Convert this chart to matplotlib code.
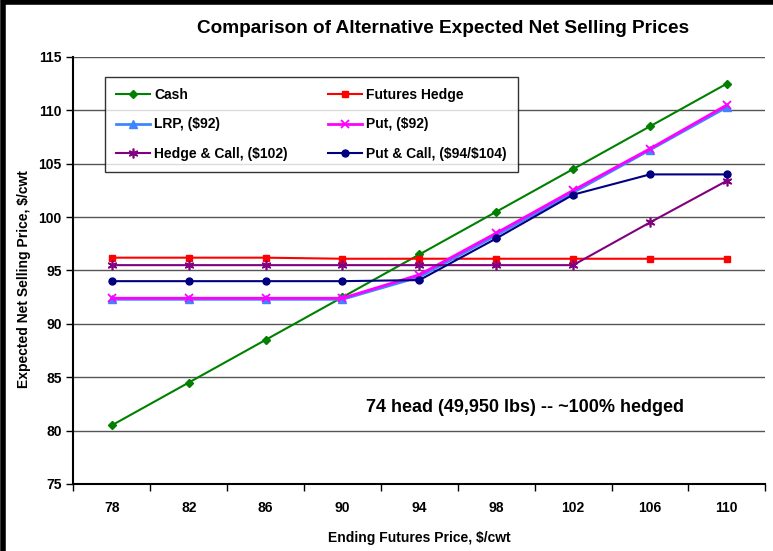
import matplotlib
matplotlib.use("Agg")
import matplotlib.pyplot as plt
from matplotlib.patches import Rectangle
from matplotlib.ticker import FixedLocator

plt.rcParams['font.family'] = ['Liberation Sans', 'DejaVu Sans']

prices = [78, 82, 86, 90, 94, 98, 102, 106, 110]
cash = [80.5, 84.5, 88.5, 92.5, 96.5, 100.5, 104.5, 108.5, 112.5]
futures_hedge = [96.2, 96.2, 96.2, 96.1, 96.1, 96.1, 96.1, 96.1, 96.1]
lrp = [92.3, 92.3, 92.3, 92.3, 94.4, 98.3, 102.3, 106.3, 110.3]
put = [92.4, 92.4, 92.4, 92.4, 94.6, 98.5, 102.5, 106.4, 110.5]
hedge_call = [95.5, 95.5, 95.5, 95.5, 95.5, 95.5, 95.5, 99.5, 103.4]
put_call = [94.0, 94.0, 94.0, 94.0, 94.1, 98.0, 102.1, 104.0, 104.0]

fig = plt.figure(figsize=(7.73, 5.51), dpi=100)
ax = fig.add_axes([0.095, 0.1216, 0.895, 0.775])

h_cash, = ax.plot(prices, cash, color='#008000', marker='D', markersize=4, lw=1.5, label='Cash')
h_fut, = ax.plot(prices, futures_hedge, color='#FF0000', marker='s', markersize=5, lw=1.5, label='Futures Hedge')
h_lrp, = ax.plot(prices, lrp, color='#3D86FF', marker='^', markersize=6, lw=2, label='LRP, (\\$92)')
h_put, = ax.plot(prices, put, color='#FF00FF', marker='x', markersize=6, mew=1.3, lw=2, label='Put, (\\$92)')
h_hc, = ax.plot(prices, hedge_call, color='#800080', marker=(6, 2, 0), markersize=7, mew=1.2, lw=1.5, label='Hedge & Call, (\\$102)')
h_pc, = ax.plot(prices, put_call, color='#000080', marker='o', markersize=5, lw=1.5, label='Put & Call, (\\$94/\\$104)')

ax.set_xlim(76, 112)
ax.set_ylim(75, 115)
ax.set_yticks(range(75, 116, 5))
ax.set_xticks(prices)
ax.xaxis.set_minor_locator(FixedLocator(list(range(76, 113, 4))))
ax.tick_params(axis='x', which='major', length=0, pad=12)
ax.tick_params(axis='x', which='minor', length=5, width=1, direction='out')
ax.tick_params(axis='y', length=5, width=1, direction='out')
for lbl in ax.get_xticklabels() + ax.get_yticklabels():
    lbl.set_fontweight('bold')
    lbl.set_fontsize(10)

ax.grid(axis='y', color='#555555', lw=1)
ax.set_axisbelow(True)
for s in ['top', 'right']:
    ax.spines[s].set_visible(False)
ax.spines['left'].set_linewidth(1.5)
ax.spines['bottom'].set_linewidth(1.5)

ax.set_xlabel('Ending Futures Price, \\$/cwt', fontsize=10, fontweight='bold', labelpad=12)
ax.set_ylabel('Expected Net Selling Price, \\$/cwt', fontsize=10, fontweight='bold', labelpad=3)
ax.yaxis.set_label_coords(-0.061, 0.48)
fig.text(0.573, 0.948, 'Comparison of Alternative Expected Net Selling Prices',
         ha='center', va='center', fontsize=13.7, fontweight='bold')

ax.text(99.5, 82.2, '74 head (49,950 lbs) -- ~100% hedged', ha='center', va='center',
        fontsize=13, fontweight='bold')

handles = [h_cash, h_lrp, h_hc, h_fut, h_put, h_pc]
leg = ax.legend(handles=handles, ncol=2, loc='upper left', bbox_to_anchor=(0.0456, 0.953),
                borderaxespad=0, frameon=True,
                fancybox=False, edgecolor='black', prop={'weight': 'bold', 'size': 10},
                columnspacing=2.9, handlelength=2.45, handletextpad=0.3,
                labelspacing=1.1, borderpad=0.8)
leg.get_frame().set_linewidth(1)

fig.patches.append(Rectangle((0.004, -0.05), 1.2, 1.046, transform=fig.transFigure,
                             fill=False, edgecolor='black', lw=4))

fig.savefig('out.png', dpi=100)
